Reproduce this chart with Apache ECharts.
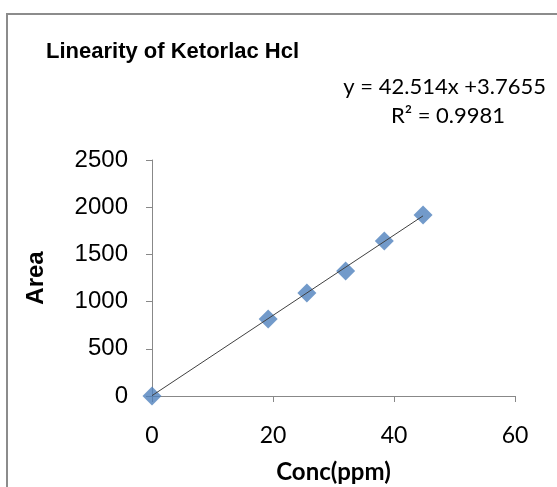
<!DOCTYPE html>
<html>
<head>
<meta charset="utf-8">
<script src="https://cdn.jsdelivr.net/npm/echarts@6/dist/echarts.min.js"></script>
<style>
  html, body { margin: 0; padding: 0; background: #fff; }
  #chart { width: 557px; height: 487px; }
</style>
</head>
<body>
<div id="chart"></div>
<script>
// concentration (ppm) and peak area
var conc = [0, 19.2, 25.6, 32, 38.4, 44.8];
var area = [0, 816, 1091, 1324, 1642, 1917];
var slope = 42.514;
var intercept = 3.7655;
var xTicks = [0, 20, 40, 60];
var yTicks = [0, 500, 1000, 1500, 2000, 2500];

var points = conc.map(function (c, i) { return [c, area[i]]; });
var xEnd = conc[conc.length - 1];
var fitLine = [[0, intercept], [xEnd, slope * xEnd + intercept]];

var calibri = 'Lato, "Open Sans", sans-serif';
var arial = '"Liberation Sans", Arial, sans-serif';

var chart = echarts.init(document.getElementById('chart'));
var option = {
  animation: false,
  graphic: [
    {
      type: 'rect',
      shape: { x: 7, y: 14, width: 600, height: 520 },
      style: { fill: 'none', stroke: '#8c8c8c', lineWidth: 2 }
    },
    {
      type: 'text', x: 46, y: 52,
      style: { text: 'Linearity of Ketorlac Hcl', fontFamily: arial, fontWeight: 'bold', fontSize: 22,
        fill: '#000', align: 'left', verticalAlign: 'middle' }
    },
    {
      type: 'text', x: 546, y: 87,
      style: { text: 'y = 42.514x +3.7655', fontFamily: calibri, fontSize: 22,
        fill: '#000', align: 'right', verticalAlign: 'middle' }
    },
    {
      type: 'text', x: 448, y: 116,
      style: { text: 'R² = 0.9981', fontFamily: calibri, fontSize: 22,
        fill: '#000', align: 'center', verticalAlign: 'middle' }
    }
  ],
  grid: { left: 152, right: 42, top: 160, bottom: 91 },
  xAxis: {
    type: 'value', min: 0, max: 60, interval: 20,
    name: 'Conc(ppm)', nameLocation: 'middle', nameGap: 76,
    nameTextStyle: { fontFamily: calibri, fontWeight: 'bold', fontSize: 24, color: '#000', verticalAlign: 'middle' },
    axisLine: { lineStyle: { color: '#888' } },
    axisTick: { show: true, length: 6, lineStyle: { color: '#888' } },
    axisLabel: { fontFamily: calibri, fontSize: 23, color: '#000', margin: 28,
      formatter: function (v) { return xTicks.indexOf(v) >= 0 ? String(v) : ''; } },
    splitLine: { show: false }
  },
  yAxis: {
    type: 'value', min: 0, max: 2500, interval: 500,
    name: 'Area', nameLocation: 'middle', nameGap: 116, nameRotate: 90,
    nameTextStyle: { fontFamily: arial, fontWeight: 'bold', fontSize: 24, color: '#000', verticalAlign: 'middle' },
    axisLine: { show: true, lineStyle: { color: '#888' } },
    axisTick: { show: true, length: 6, lineStyle: { color: '#888' } },
    axisLabel: { fontFamily: arial, fontSize: 24, color: '#000', margin: 24,
      formatter: function (v) { return yTicks.indexOf(v) >= 0 ? String(v) : ''; } },
    splitLine: { show: false }
  },
  series: [
    {
      type: 'line', data: fitLine, symbol: 'none',
      lineStyle: { color: '#404040', width: 1 }, z: 3
    },
    {
      type: 'scatter', data: points, symbol: 'diamond', symbolSize: 19,
      itemStyle: { color: '#4f81bd' }, z: 2
    }
  ]
};
chart.setOption(option);
</script>
</body>
</html>
